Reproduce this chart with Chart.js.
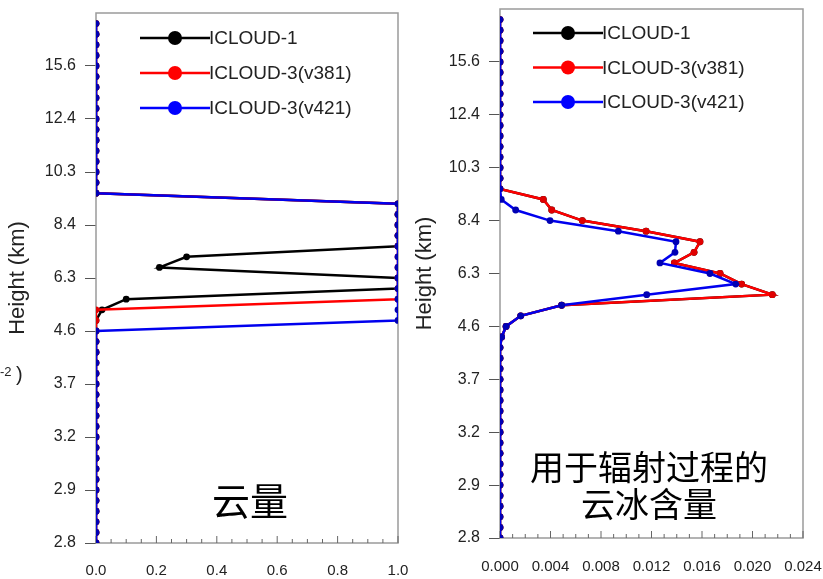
<!DOCTYPE html>
<html>
<head>
<meta charset="utf-8">
<script src="https://cdn.jsdelivr.net/npm/chart.js@4.4.0/dist/chart.umd.min.js"></script>
<style>
  html, body { margin: 0; padding: 0; background: #fff; }
  body { width: 823px; height: 579px; position: relative; overflow: hidden; font-family: "Liberation Sans", Arial, sans-serif; }
  canvas { position: absolute; top: 0; }
  #cfCanvas { left: 0; }
  #iceCanvas { left: 410px; }
  .big { position: absolute; font-family: "Noto Sans CJK SC", sans-serif; color: #000; transform: translate(-50%, -50%); white-space: nowrap; text-align: center; }
  .frag { position: absolute; color: #222; }
</style>
</head>
<body>
<canvas id="cfCanvas" width="410" height="579"></canvas>
<canvas id="iceCanvas" width="413" height="579"></canvas>
<div class="big" style="left:250px; top:498px; font-size:38px;">云量</div>
<div class="big" style="left:649px; top:484px; font-size:34px; line-height:37px;">用于辐射过程的<br>云冰含量</div>
<span class="frag" style="left:0px; top:364px; font-size:13px;">-2</span>
<span class="frag" style="left:16px; top:363px; font-size:20px;">)</span>
<script>
"use strict";

// model levels (y axis is level index, labelled with height)
const levels = [
  0, 1, 2, 3, 4, 5, 6, 7, 8, 9,
  10, 11, 12, 13, 14, 15, 16, 17, 18, 19,
  20, 21, 22, 23, 24, 25, 26, 27, 28, 29,
  30, 31, 32, 33, 34, 35, 36, 37, 38, 39,
  40, 41, 42, 43, 44, 45, 46, 47, 48, 49
];
const levelTicks = [0, 5, 10, 15, 20, 25, 30, 35, 40, 45];
const heightLabels = ["2.8", "2.9", "3.2", "3.7", "4.6", "6.3", "8.4", "10.3", "12.4", "15.6"];

const seriesNames = ["ICLOUD-1", "ICLOUD-3(v381)", "ICLOUD-3(v421)"];
const seriesColors = ["#000000", "#ff0000", "#0000ff"];

// cloud fraction (left panel)
const cfTicks = [0, 0.2, 0.4, 0.6, 0.8, 1.0];
const cfIcloud1 = [
  0, 0, 0, 0, 0, 0, 0, 0, 0, 0,
  0, 0, 0, 0, 0, 0, 0, 0, 0, 0,
  0, 0, 0.02, 0.10, 1, 1, 0.21, 0.30, 1, 1,
  1, 1, 1, 0, 0, 0, 0, 0, 0, 0,
  0, 0, 0, 0, 0, 0, 0, 0, 0, 0
];
const cfV381 = [
  0, 0, 0, 0, 0, 0, 0, 0, 0, 0,
  0, 0, 0, 0, 0, 0, 0, 0, 0, 0,
  0, 0, 0, 1, 1, 1, 1, 1, 1, 1,
  1, 1, 1, 0, 0, 0, 0, 0, 0, 0,
  0, 0, 0, 0, 0, 0, 0, 0, 0, 0
];
const cfV421 = [
  0, 0, 0, 0, 0, 0, 0, 0, 0, 0,
  0, 0, 0, 0, 0, 0, 0, 0, 0, 0,
  0, 1, 1, 1, 1, 1, 1, 1, 1, 1,
  1, 1, 1, 0, 0, 0, 0, 0, 0, 0,
  0, 0, 0, 0, 0, 0, 0, 0, 0, 0
];

// cloud ice content for radiation (right panel)
const iceTicks = [0, 0.004, 0.008, 0.012, 0.016, 0.020, 0.024];
const iceIcloud1 = [
  0, 0, 0, 0, 0, 0, 0, 0, 0, 0,
  0, 0, 0, 0, 0, 0, 0, 0, 0, 0.00013,
  0.00048, 0.00164, 0.00488, 0.02157, 0.01914, 0.01743, 0.01381, 0.01537, 0.01584, 0.01157,
  0.00652, 0.0041, 0.00343, 0, 0, 0, 0, 0, 0, 0,
  0, 0, 0, 0, 0, 0, 0, 0, 0, 0
];
const iceV381 = [
  0, 0, 0, 0, 0, 0, 0, 0, 0, 0,
  0, 0, 0, 0, 0, 0, 0, 0, 0, 0.00013,
  0.00048, 0.00164, 0.00488, 0.02157, 0.01914, 0.01743, 0.01381, 0.01537, 0.01584, 0.01157,
  0.00652, 0.0041, 0.00343, 0, 0, 0, 0, 0, 0, 0,
  0, 0, 0, 0, 0, 0, 0, 0, 0, 0
];
const iceV421 = [
  0, 0, 0, 0, 0, 0, 0, 0, 0, 0,
  0, 0, 0, 0, 0, 0, 0, 0, 0, 0.00013,
  0.00048, 0.00164, 0.00488, 0.01162, 0.01867, 0.01663, 0.01267, 0.01386, 0.01394, 0.00937,
  0.00396, 0.00124, 0.0001, 0, 0, 0, 0, 0, 0, 0,
  0, 0, 0, 0, 0, 0, 0, 0, 0, 0
];

Chart.defaults.font.family = "'Liberation Sans', Arial, sans-serif";
Chart.defaults.color = "#222";

// gray box round the plot plus inward major/minor ticks on the bottom axis
const framePlugin = {
  id: "frame",
  beforeDatasetsDraw(chart) {
    const { ctx, chartArea } = chart;
    const xScale = chart.scales.x;
    ctx.save();
    ctx.strokeStyle = "#9a9a9a";
    ctx.lineWidth = 1.5;
    ctx.strokeRect(chartArea.left, chartArea.top, chartArea.right - chartArea.left, chartArea.bottom - chartArea.top);
    ctx.strokeStyle = "#666";
    ctx.lineWidth = 1;
    const majors = xScale.ticks.map((t) => t.value);
    const step = majors[1] - majors[0];
    for (let i = 0; i < majors.length; i++) {
      for (let k = 0; k < 4; k++) {
        if (i === majors.length - 1 && k > 0) break;
        const px = xScale.getPixelForValue(majors[i] + (k * step) / 4);
        const len = k === 0 ? 7 : 4;
        ctx.beginPath();
        ctx.moveTo(px, chartArea.bottom);
        ctx.lineTo(px, chartArea.bottom - len);
        ctx.stroke();
      }
    }
    ctx.restore();
  }
};

const legendPlugin = {
  id: "insideLegend",
  afterDatasetsDraw(chart, args, opts) {
    const ctx = chart.ctx;
    ctx.save();
    ctx.font = "19px 'Liberation Sans', Arial, sans-serif";
    ctx.textBaseline = "middle";
    for (let i = 0; i < seriesNames.length; i++) {
      const y = opts.y + i * opts.dy;
      ctx.strokeStyle = seriesColors[i];
      ctx.fillStyle = seriesColors[i];
      ctx.lineWidth = 2.5;
      ctx.beginPath();
      ctx.moveTo(opts.x, y);
      ctx.lineTo(opts.x + 70, y);
      ctx.stroke();
      ctx.beginPath();
      ctx.arc(opts.x + 35, y, 7, 0, Math.PI * 2);
      ctx.fill();
      ctx.fillStyle = "#222";
      ctx.fillText(seriesNames[i], opts.x + 69, y + 1);
    }
    ctx.restore();
  }
};

function toPoints(values) {
  return values.map((v, i) => ({ x: v, y: levels[i] }));
}

function makeDataset(label, values, color, dotColor, order) {
  return {
    label: label,
    data: toPoints(values),
    showLine: true,
    borderColor: color,
    backgroundColor: dotColor,
    borderWidth: 2.5,
    pointRadius: 3.4,
    pointHoverRadius: 3.4,
    pointBorderWidth: 0,
    order: order
  };
}

function buildChart(canvasId, series, xTicks, xMax, digits, cfg) {
  return new Chart(document.getElementById(canvasId), {
    type: "scatter",
    data: {
      datasets: [
        makeDataset(seriesNames[0], series[0], seriesColors[0], "#000000", 3),
        makeDataset(seriesNames[1], series[1], seriesColors[1], "#e00000", 2),
        makeDataset(seriesNames[2], series[2], "#0000ee", "#0000b4", 1)
      ]
    },
    options: {
      responsive: false,
      animation: false,
      devicePixelRatio: 1,
      layout: { padding: { top: cfg.top, right: cfg.right, left: 0, bottom: 0 } },
      scales: {
        x: {
          type: "linear",
          min: 0,
          max: xMax,
          afterBuildTicks: (scale) => { scale.ticks = xTicks.map((v) => ({ value: v })); },
          afterFit: (scale) => {
            scale.height = cfg.xHeight;
            scale.paddingLeft = 0;
            scale.paddingRight = 0;
          },
          ticks: {
            font: { size: 15 },
            color: "#222",
            padding: cfg.xPad,
            maxRotation: 0,
            callback: (v) => Number(v).toFixed(digits)
          },
          grid: { display: false, drawTicks: false },
          border: { display: false }
        },
        y: {
          type: "linear",
          min: 0,
          max: 50,
          afterBuildTicks: (scale) => { scale.ticks = levelTicks.map((v) => ({ value: v })); },
          afterFit: (scale) => {
            scale.width = cfg.yWidth;
            scale.paddingTop = 0;
            scale.paddingBottom = 0;
          },
          ticks: {
            font: { size: 16 },
            color: "#222",
            padding: 9,
            callback: (v) => heightLabels[levelTicks.indexOf(v)]
          },
          grid: { drawOnChartArea: false, drawTicks: true, tickLength: 11, color: "#555", lineWidth: 1 },
          border: { display: false },
          title: {
            display: true,
            text: "Height (km)",
            color: "#222",
            font: { size: 22 },
            padding: { top: cfg.titlePad, bottom: 0 }
          }
        }
      },
      plugins: {
        legend: { display: false },
        tooltip: { enabled: false },
        insideLegend: cfg.legend
      }
    },
    plugins: [framePlugin, legendPlugin]
  });
}

function init() {
  buildChart("cfCanvas", [cfIcloud1, cfV381, cfV421], cfTicks, 1, 1, {
    top: 13, right: 12, yWidth: 96, xHeight: 36, xPad: 19, titlePad: 5,
    legend: { x: 140, y: 38, dy: 35 }
  });
  buildChart("iceCanvas", [iceIcloud1, iceV381, iceV421], iceTicks, 0.024, 3, {
    top: 9, right: 20, yWidth: 90, xHeight: 41, xPad: 20, titlePad: 2,
    legend: { x: 123, y: 33, dy: 34.5 }
  });
}

window.addEventListener("load", init);
</script>
</body>
</html>
